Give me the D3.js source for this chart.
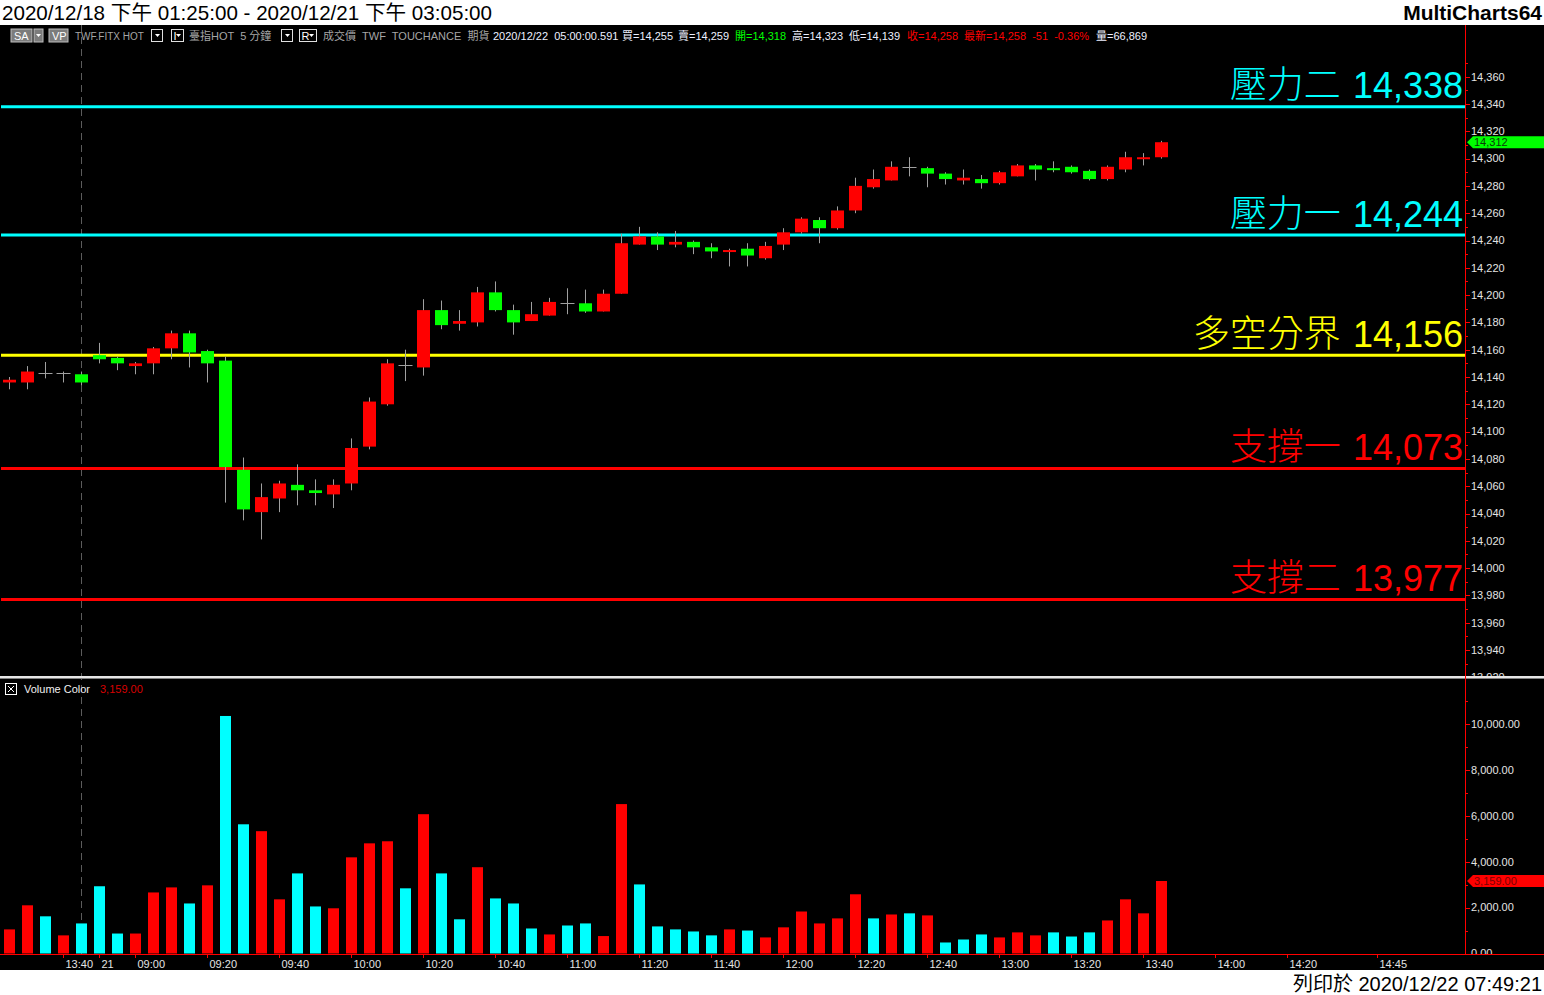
<!DOCTYPE html>
<html><head><meta charset="utf-8">
<script src="https://cdn.jsdelivr.net/npm/d3@7"></script>
<style>html,body{margin:0;padding:0;background:#fff;overflow:hidden}</style>
</head><body>
<svg id="c" width="1544" height="995"></svg>
<script>
// ---------------- DATA ----------------
const barTimes = [
 "12/18 13:25","12/18 13:30","12/18 13:35","12/18 13:40","12/18 13:45",
 "12/21 08:50","12/21 08:55","12/21 09:00","12/21 09:05","12/21 09:10","12/21 09:15","12/21 09:20",
 "12/21 09:25","12/21 09:30","12/21 09:35","12/21 09:40","12/21 09:45","12/21 09:50","12/21 09:55",
 "12/21 10:00","12/21 10:05","12/21 10:10","12/21 10:15","12/21 10:20","12/21 10:25","12/21 10:30",
 "12/21 10:35","12/21 10:40","12/21 10:45","12/21 10:50","12/21 10:55","12/21 11:00","12/21 11:05",
 "12/21 11:10","12/21 11:15","12/21 11:20","12/21 11:25","12/21 11:30","12/21 11:35","12/21 11:40",
 "12/21 11:45","12/21 11:50","12/21 11:55","12/21 12:00","12/21 12:05","12/21 12:10","12/21 12:15",
 "12/21 12:20","12/21 12:25","12/21 12:30","12/21 12:35","12/21 12:40","12/21 12:45","12/21 12:50",
 "12/21 12:55","12/21 13:00","12/21 13:05","12/21 13:10","12/21 13:15","12/21 13:20","12/21 13:25",
 "12/21 13:30","12/21 13:35","12/21 13:40","12/21 13:45"
];
const futureTimes = [
 "12/21 13:50","12/21 13:55","12/21 14:00","12/21 14:05","12/21 14:10","12/21 14:15","12/21 14:20",
 "12/21 14:25","12/21 14:30","12/21 14:35","12/21 14:40","12/21 14:45","12/21 14:50","12/21 14:55",
 "12/21 15:00","12/21 15:05"
];
const opens  = [14136,14136,14143,14143,14142,14156,14154,14148,14150,14161,14172,14159,14152,14072,14041,14051,14061,14057,14054,14062,14089,14120,14149,14147,14189,14179,14180,14202,14189,14181,14185,14194,14194,14188,14201,14237,14243,14237,14239,14235,14232,14234,14227,14237,14246,14255,14249,14262,14279,14284,14294,14293,14289,14284,14285,14282,14287,14295,14293,14294,14291,14285,14292,14300,14301];
const highs  = [14140,14148,14151,14144,14144,14165,14155,14151,14162,14174,14174,14160,14155,14081,14062,14064,14076,14065,14065,14095,14125,14153,14160,14197,14196,14189,14206,14210,14193,14195,14198,14205,14204,14204,14245,14250,14246,14247,14240,14238,14234,14238,14239,14249,14257,14257,14265,14286,14292,14298,14301,14294,14290,14292,14288,14291,14296,14296,14298,14295,14292,14295,14305,14304,14313];
const lows   = [14131,14131,14139,14136,14134,14150,14145,14142,14142,14153,14147,14136,14048,14035,14021,14041,14046,14046,14044,14057,14087,14119,14137,14141,14175,14174,14177,14188,14171,14181,14185,14186,14187,14188,14201,14237,14233,14235,14230,14227,14221,14221,14226,14233,14245,14238,14248,14260,14278,14284,14287,14279,14281,14281,14278,14281,14287,14284,14290,14289,14284,14284,14290,14295,14300];
const closes = [14138,14144,14143,14143,14136,14153,14150,14150,14161,14172,14158,14150,14074,14043,14052,14062,14057,14055,14061,14088,14122,14150,14149,14189,14178,14181,14202,14189,14180,14186,14195,14194,14188,14201,14238,14243,14237,14239,14235,14232,14233,14229,14236,14246,14256,14249,14262,14280,14285,14294,14294,14289,14285,14286,14282,14290,14295,14292,14292,14290,14285,14294,14301,14301,14312];
const volumes = [1050,2100,1620,790,1310,2930,870,870,2660,2880,2180,2970,10350,5630,5330,2360,3490,2050,1970,4190,4800,4890,2840,6070,3490,1490,3760,2400,2180,1090,830,1220,1310,760,6510,3010,1180,1050,960,790,1050,1000,700,1140,1830,1310,1530,2580,1530,1700,1750,1660,480,610,830,700,920,790,920,740,920,1440,2360,1750,3159];
const volumeUp = [1,1,0,1,0,0,0,1,1,1,0,1,0,0,1,1,0,0,1,1,1,1,0,1,0,0,1,0,0,0,1,0,0,1,1,0,0,0,0,0,1,0,1,1,1,1,1,1,0,1,0,1,0,0,0,1,1,1,0,0,0,1,1,1,1];

const levelNames  = ["壓力二","壓力一","多空分界","支撐一","支撐二"];
const levelValues = [14338,14244,14156,14073,13977];
const levelKinds  = ["res","res","pivot","sup","sup"];

const priceTickValues = [13920,13940,13960,13980,14000,14020,14040,14060,14080,14100,14120,14140,14160,14180,14200,14220,14240,14260,14280,14300,14320,14340,14360];
const volumeTickValues = [0,2000,4000,6000,8000,10000];
const timeTickKeys = ["12/18 13:40","12/21 08:50","12/21 09:00","12/21 09:20","12/21 09:40","12/21 10:00","12/21 10:20","12/21 10:40","12/21 11:00","12/21 11:20","12/21 11:40","12/21 12:00","12/21 12:20","12/21 12:40","12/21 13:00","12/21 13:20","12/21 13:40","12/21 14:00","12/21 14:20","12/21 14:45"];
const timeTickLabels = ["13:40","21","09:00","09:20","09:40","10:00","10:20","10:40","11:00","11:20","11:40","12:00","12:20","12:40","13:00","13:20","13:40","14:00","14:20","14:45"];

const lastPrice = 14312;
const lastVolume = 3159;
const titleText = "2020/12/18 下午 01:25:00 - 2020/12/21 下午 03:05:00";
const brandText = "MultiCharts64";
const footerText = "列印於 2020/12/22 07:49:21";
const quoteTexts = ["2020/12/22  05:00:00.591","買=14,255","賣=14,259","開=14,318","高=14,323","低=14,139","收=14,258","最新=14,258  -51  -0.36%","量=66,869"];
const quoteKinds = ["w","w","w","up","w","w","dn","dn","w"];

// ---------------- LAYOUT / STYLE ----------------
const W = 1544, H = 995;
const plotRight = 1465;
const priceTop = 25, priceBottom = 676;
const volTop = 679, volBottom = 954;
const LAT = "'Liberation Sans', Arial, sans-serif";
const CJK = "'Noto Sans CJK TC', 'Noto Sans CJK SC', sans-serif";
const MIX = "'Liberation Sans', 'Noto Sans CJK TC', sans-serif";
const RED = "#ff0000", GREEN = "#00ff00", CYAN = "#00ffff", YELLOW = "#ffff00";
const WICK = "#a0a0a0", AXT = "#e4e4e4";
const levelColor = {res: CYAN, pivot: YELLOW, sup: RED};

const svg = d3.select("#c");
const defs = svg.append("defs");
defs.append("clipPath").attr("id","clipP").append("rect").attr("x",0).attr("y",priceTop).attr("width",plotRight).attr("height",priceBottom-priceTop);
defs.append("clipPath").attr("id","clipV").append("rect").attr("x",0).attr("y",volTop).attr("width",plotRight).attr("height",volBottom-volTop);
defs.append("clipPath").attr("id","clipPA").append("rect").attr("x",plotRight).attr("y",priceTop+20).attr("width",W-plotRight).attr("height",priceBottom-priceTop-20);
defs.append("clipPath").attr("id","clipVA").append("rect").attr("x",plotRight).attr("y",volTop).attr("width",W-plotRight).attr("height",volBottom-volTop);

svg.append("rect").attr("x",0).attr("y",0).attr("width",W).attr("height",H).attr("fill","#fff");
svg.append("rect").attr("x",0).attr("y",priceTop).attr("width",W).attr("height",970-priceTop).attr("fill","#000");

const allSlots = barTimes.concat(futureTimes);
const x = d3.scaleBand().domain(allSlots).range([0.5, 0.5 + allSlots.length*18]).padding(0);
const cx = k => x(k) + x.bandwidth()/2;
const yP = d3.scaleLinear().domain([13920,14400]).range([677.3,22.1]);
const yV = d3.scaleLinear().domain([0,10000]).range([953.5,724]);

const bars = barTimes.map((t,i)=>({t, o:opens[i], h:highs[i], l:lows[i], c:closes[i], v:volumes[i], up:volumeUp[i]}));

svg.append("line").attr("x1",cx("12/18 13:45")).attr("x2",cx("12/18 13:45"))
  .attr("y1",priceTop).attr("y2",volBottom).attr("stroke","#5c5c5c").attr("stroke-dasharray","7,5");

// ---------- price pane ----------
const gP = svg.append("g").attr("clip-path","url(#clipP)");
levelValues.forEach((v,i)=>{
  gP.append("line").attr("x1",1).attr("x2",plotRight).attr("y1",yP(v)).attr("y2",yP(v))
    .attr("stroke",levelColor[levelKinds[i]]).attr("stroke-width",3);
});
const cg = gP.selectAll("g.candle").data(bars).join("g").attr("class","candle");
cg.append("line").attr("x1",d=>cx(d.t)).attr("x2",d=>cx(d.t))
  .attr("y1",d=>yP(d.h)).attr("y2",d=>yP(d.l)).attr("stroke",WICK).attr("stroke-width",1);
cg.filter(d=>d.o!==d.c).append("rect")
  .attr("x",d=>cx(d.t)-6.5).attr("width",13)
  .attr("y",d=>yP(Math.max(d.o,d.c)))
  .attr("height",d=>Math.max(2, yP(Math.min(d.o,d.c))-yP(Math.max(d.o,d.c))))
  .attr("fill",d=>d.c>d.o?RED:GREEN);
cg.filter(d=>d.o===d.c).append("line")
  .attr("x1",d=>cx(d.t)-7).attr("x2",d=>cx(d.t)+7)
  .attr("y1",d=>Math.round(yP(d.c))+0.5).attr("y2",d=>Math.round(yP(d.c))+0.5)
  .attr("stroke",WICK).attr("stroke-width",1);

const fmtInt = d3.format(",");
levelValues.forEach((v,i)=>{
  const t = svg.append("text").attr("x",plotRight-2).attr("y",yP(v)-8.5)
    .attr("text-anchor","end").attr("fill",levelColor[levelKinds[i]]);
  t.append("tspan").attr("font-family",CJK).attr("font-weight",300).attr("font-size",37).text(levelNames[i]);
  t.append("tspan").attr("font-family",LAT).attr("font-size",36).attr("dx",2).text(" " + fmtInt(v));
});

const gPA = svg.append("g").attr("clip-path","url(#clipPA)");
const minorP = d3.range(13930, 14380, 20);
gPA.selectAll("line.mn").data(minorP).join("line").attr("class","mn")
  .attr("x1",plotRight).attr("x2",plotRight+3).attr("y1",d=>Math.round(yP(d))+0.5).attr("y2",d=>Math.round(yP(d))+0.5).attr("stroke",RED);
gPA.selectAll("line.mj").data(priceTickValues).join("line").attr("class","mj")
  .attr("x1",plotRight).attr("x2",plotRight+5).attr("y1",d=>Math.round(yP(d))+0.5).attr("y2",d=>Math.round(yP(d))+0.5).attr("stroke",RED);
gPA.selectAll("text").data(priceTickValues).join("text")
  .attr("x",plotRight+6).attr("y",d=>yP(d)).attr("dy","0.35em")
  .attr("font-family",LAT).attr("font-size",11).attr("fill",AXT).text(d=>fmtInt(d));

{
  const y0 = yP(lastPrice);
  svg.append("path").attr("d",`M${plotRight+2},${y0} L${plotRight+8},${y0-6} L${W},${y0-6} L${W},${y0+6} L${plotRight+8},${y0+6} Z`).attr("fill",GREEN);
  svg.append("text").attr("x",plotRight+9).attr("y",y0).attr("dy","0.36em").attr("font-family",LAT).attr("font-size",11).attr("fill","#0a3a0a").text(fmtInt(lastPrice));
}

svg.append("rect").attr("x",0).attr("y",676).attr("width",W).attr("height",2).attr("fill","#e6e6e6");
svg.append("rect").attr("x",0).attr("y",678).attr("width",W).attr("height",1).attr("fill","#808080");

// ---------- volume pane ----------
const gV = svg.append("g").attr("clip-path","url(#clipV)");
gV.selectAll("rect.vol").data(bars).join("rect").attr("class","vol")
  .attr("x",d=>cx(d.t)-5.5).attr("width",11)
  .attr("y",d=>yV(d.v)).attr("height",d=>yV(0)-yV(d.v))
  .attr("fill",d=>d.up?RED:CYAN);

const fmtVol = d3.format(",.2f");
const gVA = svg.append("g").attr("clip-path","url(#clipVA)");
gVA.selectAll("line.mn").data(d3.range(1000,12000,2000)).join("line").attr("class","mn")
  .attr("x1",plotRight).attr("x2",plotRight+3).attr("y1",d=>Math.round(yV(d))+0.5).attr("y2",d=>Math.round(yV(d))+0.5).attr("stroke",RED);
gVA.selectAll("line.mj").data(volumeTickValues).join("line").attr("class","mj")
  .attr("x1",plotRight).attr("x2",plotRight+5).attr("y1",d=>Math.round(yV(d))+0.5).attr("y2",d=>Math.round(yV(d))+0.5).attr("stroke",RED);
gVA.selectAll("text").data(volumeTickValues).join("text")
  .attr("x",plotRight+6).attr("y",d=>yV(d)).attr("dy","0.35em")
  .attr("font-family",LAT).attr("font-size",11).attr("fill",AXT).text(d=>fmtVol(d));
{
  const y0 = yV(lastVolume);
  svg.append("path").attr("d",`M${plotRight+2},${y0} L${plotRight+8},${y0-6} L${W},${y0-6} L${W},${y0+6} L${plotRight+8},${y0+6} Z`).attr("fill",RED);
  svg.append("text").attr("x",plotRight+9).attr("y",y0).attr("dy","0.36em").attr("font-family",LAT).attr("font-size",11).attr("fill","#7a0000").text(fmtVol(lastVolume));
}

svg.append("rect").attr("x",5.5).attr("y",683.5).attr("width",11).attr("height",11).attr("fill","none").attr("stroke","#fff");
svg.append("path").attr("d","M8,686 L14,692 M14,686 L8,692").attr("stroke","#fff");
svg.append("text").attr("x",24).attr("y",693).attr("font-family",LAT).attr("font-size",11).attr("fill","#f0f0f0").text("Volume Color");
svg.append("text").attr("x",100).attr("y",693).attr("font-family",LAT).attr("font-size",11).attr("fill","#d80000").text(fmtVol(lastVolume));

svg.append("line").attr("x1",plotRight+0.5).attr("x2",plotRight+0.5).attr("y1",priceTop).attr("y2",volBottom).attr("stroke",RED);

// ---------- time axis ----------
svg.append("line").attr("x1",0).attr("x2",W).attr("y1",volBottom+0.5).attr("y2",volBottom+0.5).attr("stroke",RED);
const tt = timeTickKeys.map((k,i)=>({k, label: timeTickLabels[i]}));
svg.selectAll("line.tt").data(tt).join("line").attr("class","tt")
  .attr("x1",d=>cx(d.k)).attr("x2",d=>cx(d.k)).attr("y1",volBottom).attr("y2",volBottom+4).attr("stroke",RED);
svg.selectAll("text.tt").data(tt).join("text").attr("class","tt")
  .attr("x",d=>cx(d.k)+2).attr("y",968).attr("font-family",LAT).attr("font-size",11).attr("fill",AXT).text(d=>d.label);

// ---------- toolbar ----------
const tb = svg.append("g");
const tbY = 40;
function grayBox(x0,w,label){
  tb.append("rect").attr("x",x0).attr("y",29).attr("width",w).attr("height",13).attr("fill","#7c7c7c").attr("stroke","#bdbdbd");
  if(label) tb.append("text").attr("x",x0+3).attr("y",tbY).attr("font-family",LAT).attr("font-size",11).attr("fill","#fff").text(label);
}
function ddBox(x0,w,label){
  tb.append("rect").attr("x",x0+0.5).attr("y",29.5).attr("width",w).attr("height",12).attr("fill","#000").attr("stroke","#e0e0e0");
  if(label) tb.append("text").attr("x",x0+2.5).attr("y",tbY).attr("font-family",LAT).attr("font-size",11).attr("fill","#fff").text(label);
  const tx = x0 + w - 4;
  tb.append("path").attr("d",`M${tx-3},34 L${tx+2},34 L${tx-0.5},37 Z`).attr("fill","#fff");
}
grayBox(11,21,"SA");
tb.append("rect").attr("x",34).attr("y",29).attr("width",9).attr("height",13).attr("fill","#7c7c7c").attr("stroke","#bdbdbd");
tb.append("path").attr("d","M36,34 L41,34 L38.5,37 Z").attr("fill","#fff");
grayBox(49,19,"VP");
tb.append("text").attr("x",75).attr("y",tbY).attr("font-family",MIX).attr("font-size",10).attr("fill","#a6a6a6").text("TWF.FITX HOT");
ddBox(151,11,"");
ddBox(171,12,"I");
tb.append("text").attr("x",189).attr("y",tbY).attr("font-family",MIX).attr("font-size",11).attr("fill","#a6a6a6").attr("xml:space","preserve").text("臺指HOT  5 分鐘");
ddBox(281,11,"");
ddBox(299,17,"R");
tb.append("text").attr("x",323).attr("y",tbY).attr("font-family",MIX).attr("font-size",11).attr("fill","#a6a6a6").attr("xml:space","preserve").text("成交價  TWF  TOUCHANCE  期貨");
const quoteX = [493,622,678,735,792,849,907,964,1096];
const quoteColor = {w:"#eef0ff", up:GREEN, dn:RED};
quoteTexts.forEach((q,i)=>{
  tb.append("text").attr("x",quoteX[i]).attr("y",tbY).attr("font-family",MIX).attr("font-size",11)
    .attr("fill",quoteColor[quoteKinds[i]]).attr("xml:space","preserve").text(q);
});

// ---------- header / footer ----------
svg.append("text").attr("x",2).attr("y",20).attr("font-family",MIX).attr("font-size",20.6).attr("fill","#000").text(titleText);
svg.append("text").attr("x",1542).attr("y",20).attr("text-anchor","end").attr("font-family",LAT).attr("font-weight","bold").attr("font-size",21).attr("fill","#000").text(brandText);
svg.append("text").attr("x",1542).attr("y",991).attr("text-anchor","end").attr("font-family",MIX).attr("font-size",20).attr("fill","#000").text(footerText);
</script>
</body></html>
